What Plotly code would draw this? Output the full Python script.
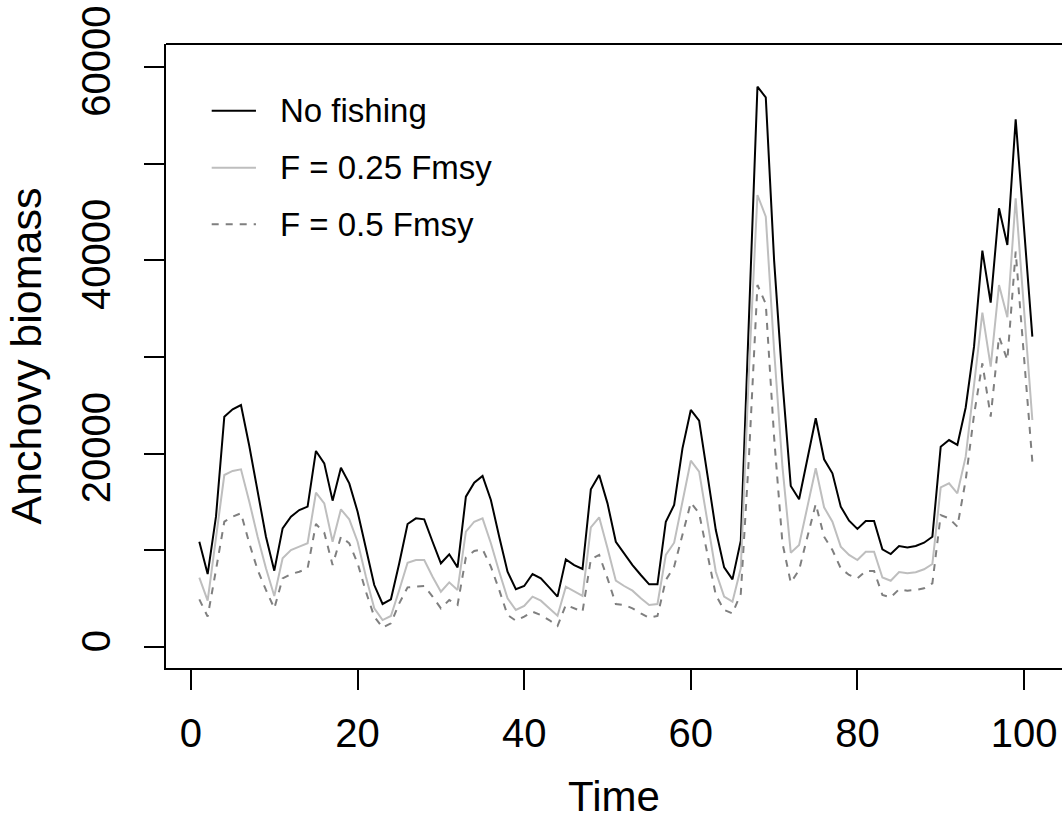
import plotly.graph_objects as go

time = list(range(1, 102))

no_fishing = [
    10890, 7550, 13480, 23830, 24590, 25030, 20800, 16300, 11400, 7900,
    12280, 13480, 14170, 14520, 20280, 19000, 15140, 18550, 16930, 14000,
    10030, 6410, 4450, 4930, 8660, 12720, 13310, 13210, 10890, 8660,
    9590, 8240, 15550, 17000, 17690, 15210, 11410, 7790, 5970, 6310,
    7550, 7100, 6170, 5210, 9070, 8480, 8070, 16310, 17790, 14860,
    10890, 9620, 8480, 7450, 6480, 6480, 12960, 14690, 20550, 24520,
    23410, 17790, 12100, 8240, 7000, 11000, 34600, 57960, 56860, 40000,
    27500, 16650, 15280, 19520, 23660, 19420, 17970, 14520, 13070, 12210,
    13030, 13030, 10110, 9620, 10450, 10300, 10450, 10790, 11410, 20720,
    21410, 20900, 24780, 31070, 41000, 35620, 45380, 41590, 54590, 43350,
    32100,
]

f_025 = [
    7170, 4790, 11300, 17790, 18210, 18380, 15030, 11410, 8140, 5280,
    9170, 10030, 10380, 10730, 15960, 14860, 10890, 14240, 13210, 10890,
    7270, 4000, 2790, 3210, 5900, 8720, 9000, 9000, 7270, 5720,
    6690, 5900, 11930, 12960, 13310, 10730, 7790, 5040, 3830, 4240,
    5210, 4790, 4000, 3240, 6240, 5720, 5280, 12380, 13420, 10210,
    6860, 6310, 5830, 5040, 4350, 4450, 9520, 10790, 15210, 19270,
    18140, 13140, 7790, 5210, 4690, 8140, 29000, 46760, 44520, 30700,
    18650, 9760, 10550, 14520, 18490, 14450, 12960, 10380, 9520, 9000,
    9860, 9860, 7190, 6850, 7760, 7620, 7730, 8040, 8590, 16520,
    16930, 15900, 19690, 27100, 34590, 29000, 37450, 34110, 46420, 34950,
    23480,
]

f_05 = [
    4930, 3140, 7970, 12960, 13480, 13830, 10730, 7970, 5900, 4000,
    7100, 7550, 7790, 8140, 12720, 11820, 8480, 11410, 10730, 8660,
    5720, 3140, 2000, 2450, 4520, 6170, 6240, 6310, 5210, 4000,
    4860, 4350, 9280, 9930, 10110, 8310, 5900, 3310, 2720, 3140,
    3650, 3310, 2790, 2170, 4350, 4000, 3650, 9070, 9520, 7100,
    4450, 4350, 4000, 3480, 3030, 3210, 6930, 8310, 11760, 14930,
    13830, 9690, 5380, 3830, 3480, 5500, 20000, 37450, 35500, 21700,
    10750, 6660, 7970, 11410, 14790, 11410, 10030, 8140, 7450, 7100,
    7860, 7860, 5380, 5140, 5970, 5830, 5900, 6070, 6590, 13650,
    13310, 12450, 17280, 24000, 29350, 23830, 32100, 29690, 40900, 30000,
    19170,
]

x_ticks = [0, 20, 40, 60, 80, 100]
y_ticks = [0, 10000, 20000, 30000, 40000, 50000, 60000]
y_tick_text = ["0", "", "20000", "", "40000", "", "60000"]

series_names = ["No fishing", "F = 0.25 Fmsy", "F = 0.5 Fmsy"]
series_colors = ["#000000", "#bebebe", "#7f7f7f"]
series_dash = ["solid", "solid", "7px,7px"]

FONT = "Liberation Sans, Arial, Helvetica, sans-serif"

fig = go.Figure()
for name, ys, col, dash in zip(series_names, [no_fishing, f_025, f_05], series_colors, series_dash):
    fig.add_trace(go.Scatter(
        x=time, y=ys, mode="lines", name=name,
        line=dict(color=col, width=2, dash=dash),
        showlegend=False,
    ))

# legend drawn in R style (line sample + label)
leg_y = [0.8931, 0.8018, 0.7111]
for name, col, dash, yy in zip(series_names, series_colors, series_dash, leg_y):
    fig.add_shape(type="line", xref="paper", yref="paper",
                  x0=0.051, x1=0.1004, y0=yy, y1=yy,
                  line=dict(color=col, width=2, dash=dash))
    fig.add_annotation(xref="paper", yref="paper", x=0.125, y=yy,
                       text=name, showarrow=False, xanchor="left", yanchor="middle",
                       font=dict(family=FONT, size=33, color="black"))

# top border of the plot box
fig.add_shape(type="line", xref="paper", yref="paper", x0=0, x1=1, y0=1, y1=1,
              line=dict(color="black", width=2))

fig.update_layout(
    width=1062, height=820,
    margin=dict(l=166, r=0, t=44, b=152),
    paper_bgcolor="white", plot_bgcolor="white",
    font=dict(family=FONT, size=40, color="black"),
    showlegend=False,
)
fig.update_xaxes(
    range=[-3.0, 104.56], tickvals=x_ticks, ticktext=[str(v) for v in x_ticks],
    ticks="outside", ticklen=20, tickwidth=2, tickcolor="black",
    showline=True, linecolor="black", linewidth=2, mirror=False,
    showgrid=False, zeroline=False,
    tickfont=dict(size=40), ticklabelstandoff=9,
    title=dict(text="Time", font=dict(size=42), standoff=37),
)
fig.update_yaxes(
    range=[-2172, 62379], tickvals=y_ticks, ticktext=y_tick_text,
    ticks="outside", ticklen=20, tickwidth=2, tickcolor="black",
    showline=True, linecolor="black", linewidth=2, mirror=False,
    showgrid=False, zeroline=False, tickangle=-90,
    tickfont=dict(size=40), ticklabelstandoff=18,
    title=dict(text="Anchovy biomass", font=dict(size=43), standoff=19),
)

fig.write_html("out.html")
